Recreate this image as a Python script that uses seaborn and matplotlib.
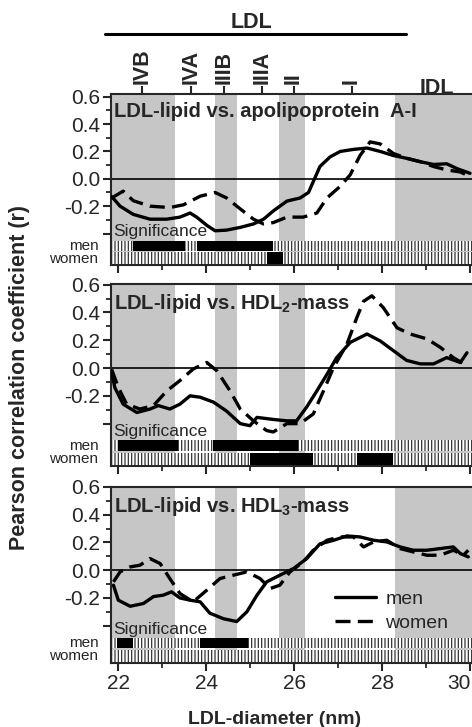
import numpy as np
import pandas as pd
import matplotlib
matplotlib.use("Agg")
import matplotlib.pyplot as plt
import matplotlib.transforms as mtransforms
from matplotlib.patches import Rectangle
from matplotlib.lines import Line2D
import seaborn as sns

# ---------------- data ----------------
titles = ["LDL-lipid vs. apolipoprotein  A-I",
          "LDL-lipid vs. HDL$_2$-mass",
          "LDL-lipid vs. HDL$_3$-mass"]

p1_men_x = [21.85, 22.04, 22.34, 22.72, 23.10, 23.40, 23.63, 23.78, 24.01, 24.20, 24.46, 24.77, 25.07, 25.30, 25.52, 25.83, 26.13, 26.32, 26.43, 26.58, 26.81, 27.04, 27.34, 27.65, 27.95, 28.25, 28.55, 28.86, 29.16, 29.46, 29.69, 29.99]
p1_men_y = [-0.13, -0.20, -0.26, -0.295, -0.295, -0.28, -0.25, -0.28, -0.34, -0.38, -0.375, -0.355, -0.33, -0.295, -0.235, -0.163, -0.14, -0.10, -0.02, 0.09, 0.16, 0.20, 0.215, 0.225, 0.20, 0.17, 0.15, 0.125, 0.105, 0.11, 0.075, 0.04]
p1_wom_x = [21.85, 22.11, 22.34, 22.72, 23.17, 23.48, 23.86, 24.20, 24.46, 24.77, 25.07, 25.30, 25.52, 25.83, 26.20, 26.51, 26.74, 27.04, 27.27, 27.49, 27.72, 27.95, 28.25, 28.55, 28.86, 29.16, 29.46, 29.77, 29.99]
p1_wom_y = [-0.14, -0.09, -0.16, -0.20, -0.21, -0.19, -0.127, -0.10, -0.14, -0.22, -0.295, -0.33, -0.32, -0.28, -0.28, -0.25, -0.14, -0.055, 0.03, 0.17, 0.27, 0.255, 0.185, 0.15, 0.125, 0.09, 0.065, 0.05, 0.017]

p2_men_x = [21.85, 21.92, 22.11, 22.42, 22.72, 22.91, 23.17, 23.40, 23.63, 23.86, 24.16, 24.46, 24.77, 24.99, 25.15, 25.52, 25.83, 26.05, 26.28, 26.51, 26.74, 26.96, 27.27, 27.65, 27.95, 28.25, 28.55, 28.86, 29.16, 29.46, 29.77, 29.92]
p2_men_y = [-0.03, -0.14, -0.26, -0.32, -0.295, -0.27, -0.295, -0.26, -0.20, -0.21, -0.245, -0.31, -0.40, -0.415, -0.355, -0.37, -0.38, -0.38, -0.28, -0.165, -0.045, 0.075, 0.185, 0.245, 0.195, 0.125, 0.055, 0.03, 0.03, 0.075, 0.04, 0.11]
p2_wom_x = [21.85, 22.00, 22.19, 22.49, 22.80, 23.10, 23.40, 23.70, 24.01, 24.24, 24.54, 24.77, 25.07, 25.37, 25.52, 25.83, 26.13, 26.43, 26.66, 26.89, 27.19, 27.42, 27.57, 27.76, 28.02, 28.33, 28.63, 29.01, 29.31, 29.61, 29.92]
p2_wom_y = [-0.01, -0.14, -0.26, -0.295, -0.27, -0.165, -0.09, -0.007, 0.04, -0.02, -0.165, -0.295, -0.38, -0.45, -0.46, -0.40, -0.40, -0.33, -0.165, 0.005, 0.17, 0.365, 0.48, 0.52, 0.435, 0.29, 0.245, 0.21, 0.15, 0.075, 0.017]

p3_men_x = [21.89, 22.00, 22.27, 22.57, 22.80, 23.02, 23.21, 23.40, 23.63, 23.86, 24.08, 24.39, 24.69, 24.92, 25.15, 25.37, 25.67, 25.98, 26.28, 26.58, 26.89, 27.19, 27.49, 27.80, 28.10, 28.40, 28.70, 29.01, 29.31, 29.61, 29.77, 29.95]
p3_men_y = [-0.108, -0.216, -0.26, -0.24, -0.19, -0.18, -0.156, -0.20, -0.216, -0.228, -0.31, -0.35, -0.37, -0.30, -0.18, -0.084, -0.036, 0.012, 0.084, 0.19, 0.216, 0.247, 0.24, 0.216, 0.204, 0.168, 0.144, 0.144, 0.156, 0.168, 0.12, 0.096]
p3_wom_x = [21.89, 22.04, 22.27, 22.49, 22.72, 22.95, 23.17, 23.40, 23.70, 24.01, 24.31, 24.61, 24.92, 25.22, 25.45, 25.67, 25.90, 26.20, 26.43, 26.74, 27.04, 27.34, 27.57, 27.80, 28.10, 28.40, 28.70, 29.01, 29.31, 29.61, 29.84, 29.95]
p3_wom_y = [-0.084, -0.012, 0.024, 0.036, 0.084, 0.048, -0.06, -0.168, -0.228, -0.144, -0.06, -0.036, -0.012, -0.06, -0.132, -0.108, -0.012, 0.06, 0.144, 0.216, 0.24, 0.24, 0.168, 0.204, 0.216, 0.156, 0.132, 0.108, 0.108, 0.144, 0.108, 0.144]

# significant intervals (LDL diameter, nm)
sig_men = [[(22.34, 23.52), (23.78, 25.51)],
           [(22.00, 23.36), (24.16, 26.09)],
           [(21.96, 22.34), (23.86, 24.95)]]
sig_women = [[(25.37, 25.75)],
             [(24.99, 26.43), (27.42, 28.25)],
             []]

# shaded subclass regions
shade_regions = [(21.7, 23.29), (24.20, 24.69), (25.64, 26.25), (28.29, 30.5)]

# subclass tick labels on top
sub_pos = [22.53, 23.65, 24.40, 25.26, 25.98, 27.30]
sub_lab = ["IVB", "IVA", "IIIB", "IIIA", "II", "I"]

xticks_major = [22, 24, 26, 28, 30]
yticks_major = [-0.4, -0.2, 0.0, 0.2, 0.4, 0.6]
ytick_labels = ["", "-0.2", "0.0", "0.2", "0.4", "0.6"]

# ---------------- style ----------------
sns.set_style("ticks")
plt.rcParams["font.family"] = ["Liberation Sans", "DejaVu Sans"]
plt.rcParams["mathtext.fontset"] = "custom"
plt.rcParams["mathtext.rm"] = "Liberation Sans:bold"
plt.rcParams["mathtext.bf"] = "Liberation Sans:bold"
plt.rcParams["mathtext.default"] = "bf"
plt.rcParams["hatch.linewidth"] = 0.9
plt.rcParams["axes.linewidth"] = 1.5

W, H = 472, 727
fig = plt.figure(figsize=(W / 100, H / 100), dpi=100)

def fx(px):
    return px / W

def fy(py):
    return 1 - py / H

# panel geometry (pixel top, bottom) and y-limits
panels = [(94, 265, (-0.63, 0.62)),
          (284, 466, (-0.705, 0.605)),
          (487, 663, (-0.669, 0.597))]
ax_left, ax_right = 111, 474
xlim = (21.834, 30.08)

curves = [(p1_men_x, p1_men_y, p1_wom_x, p1_wom_y),
          (p2_men_x, p2_men_y, p2_wom_x, p2_wom_y),
          (p3_men_x, p3_men_y, p3_wom_x, p3_wom_y)]

axes = []
for i, (top, bot, ylim) in enumerate(panels):
    ax = fig.add_axes([fx(ax_left), fy(bot), (ax_right - ax_left) / W, (bot - top) / H])
    axes.append(ax)
    ax.set_xlim(*xlim)
    ax.set_ylim(*ylim)
    for a, b in shade_regions:
        ax.axvspan(a, b, color="#c6c6c6", lw=0, zorder=0)
    ax.axhline(0, color="black", lw=1.2, zorder=1)

    mx, my, wx, wy = curves[i]
    df = pd.concat([
        pd.DataFrame({"d": mx, "r": my, "sex": "men"}),
        pd.DataFrame({"d": wx, "r": wy, "sex": "women"}),
    ], ignore_index=True)
    sns.lineplot(data=df, x="d", y="r", style="sex", units="sex", estimator=None,
                 sort=False, color="black", linewidth=2.4,
                 dashes={"men": "", "women": (4.5, 2.2)}, legend=False, ax=ax, zorder=3)

    # significance rows
    trans = mtransforms.blended_transform_factory(ax.transData, ax.transAxes)
    rows = [(0.083, 0.058, sig_men[i]), (0.008, 0.066, sig_women[i])]
    for y0, h, segs in rows:
        ax.add_patch(Rectangle((xlim[0] + 0.03, y0), 8.2, h, transform=trans,
                               facecolor="white", edgecolor="#333333", hatch="|||||",
                               lw=0, zorder=4))
        for a, b in segs:
            ax.add_patch(Rectangle((a, y0), b - a, h, transform=trans,
                                   facecolor="black", edgecolor="black", lw=0, zorder=5))
    ax.text(0.005, 0.15, "Significance", transform=ax.transAxes, fontsize=12.5,
            ha="left", va="bottom", zorder=6)
    ax.text(-0.035, 0.112, "men", transform=ax.transAxes, fontsize=11,
            ha="right", va="center")
    ax.text(-0.035, 0.037, "women", transform=ax.transAxes, fontsize=11,
            ha="right", va="center")

    ax.text(0.008, 0.955, titles[i], transform=ax.transAxes, fontsize=14.5,
            fontweight="bold", ha="left", va="top", zorder=6)

    ax.set_xticks(xticks_major)
    ax.set_xticks([23, 25, 27, 29], minor=True)
    ax.set_yticks(yticks_major)
    ax.set_yticklabels(ytick_labels)
    ax.set_yticks([-0.3, -0.1, 0.1, 0.3, 0.5], minor=True)
    ax.tick_params(axis="both", which="major", direction="out", length=6, width=1.5,
                   labelsize=15, pad=2)
    ax.tick_params(axis="both", which="minor", direction="out", length=3.5, width=1.3)
    ax.set_xlabel("")
    ax.set_ylabel("")
    if i < 2:
        ax.tick_params(axis="x", labelbottom=False)
    for s in ax.spines.values():
        s.set_linewidth(1.5)

# keep the last x tick label inside the figure
axes[2].set_xticklabels([str(v) for v in xticks_major])
axes[2].get_xticklabels()[-1].set_horizontalalignment("right")

# top subclass ticks
sec = axes[0].secondary_xaxis("top")
sec.set_xticks(sub_pos)
sec.set_xticklabels(sub_lab, rotation=90, fontweight="bold", fontsize=15.5)
sec.tick_params(direction="out", length=6, width=1.5, pad=1)
sec.spines["top"].set_visible(False)

# legend in bottom panel
handles = [Line2D([], [], color="black", lw=2.4, ls="-"),
           Line2D([], [], color="black", lw=2.4, ls=(0, (4.5, 2.2)))]
axes[2].legend(handles, ["men", "women"], loc="lower left",
               bbox_to_anchor=(0.59, 0.12), frameon=False, fontsize=14,
               handlelength=2.1, handletextpad=0.5, labelspacing=0.35, borderpad=0)

# header
fig.text(fx(251), fy(22), "LDL", fontsize=15.5, fontweight="bold", ha="center", va="center")
fig.add_artist(Line2D([fx(105), fx(406)], [fy(34), fy(34)], color="black", lw=2.2))
fig.text(fx(437), fy(88), "IDL", fontsize=15.5, fontweight="bold", ha="center", va="center")

fig.text(fx(20), fy(378), "Pearson correlation coefficient (r)", fontsize=15.5,
         fontweight="bold", rotation=90, ha="center", va="center")
fig.text(fx(275), fy(719), "LDL-diameter (nm)", fontsize=14, fontweight="bold",
         ha="center", va="center")

fig.savefig("out.png", dpi=100)
